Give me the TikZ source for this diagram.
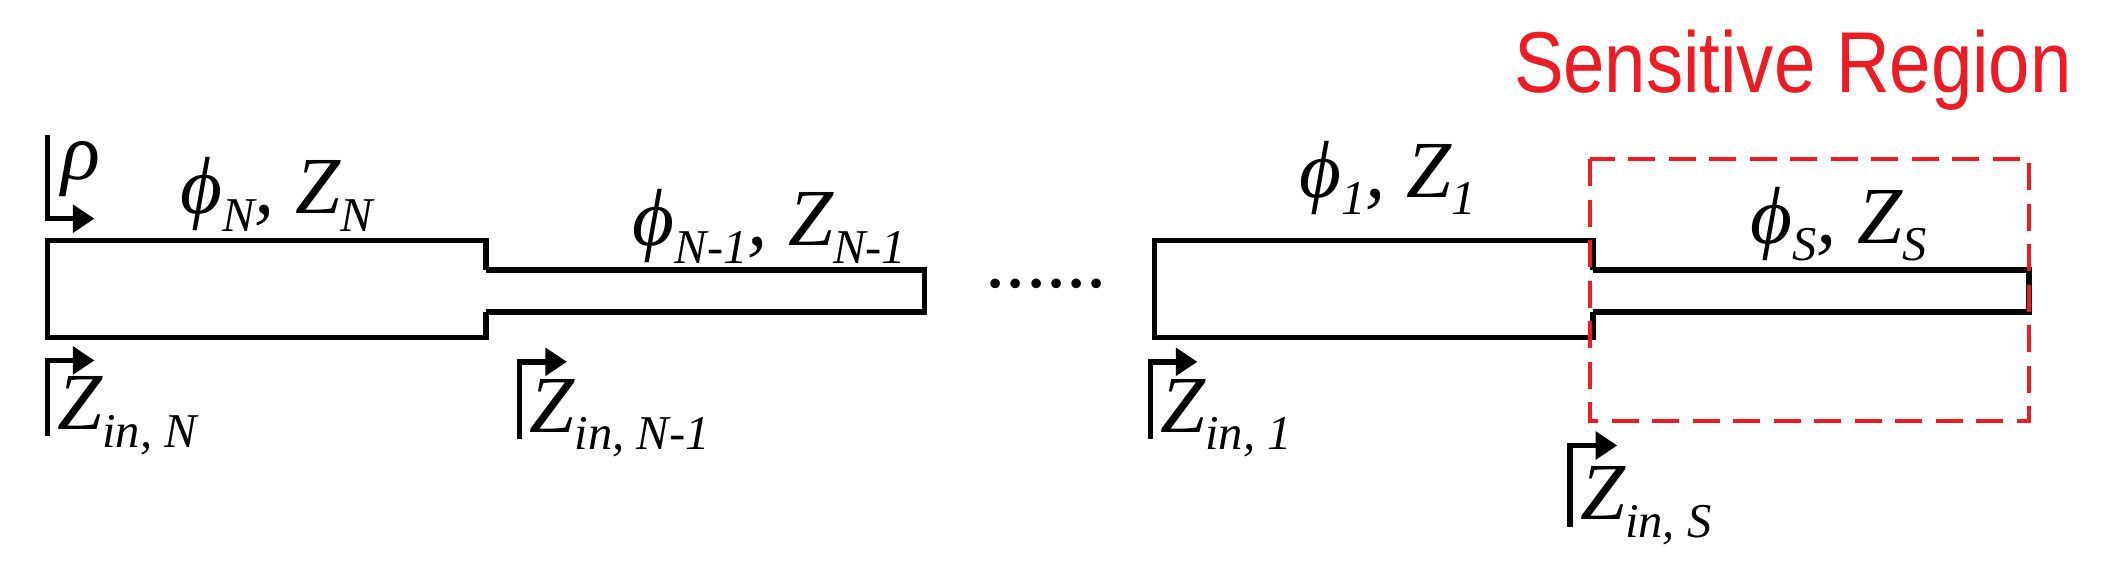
\documentclass[tikz,border=0pt]{standalone}
\usepackage{fontspec}
\setmainfont{Liberation Serif}
\newfontfamily\sansf{Liberation Sans}
\usetikzlibrary{arrows.meta}
\definecolor{sred}{RGB}{237,28,36}
\newcommand{\lsub}[1]{\raisebox{-0.22em}{\fontsize{18}{18}\selectfont\itshape #1}}
\begin{document}
\begin{tikzpicture}[x=0.5pt,y=-0.5pt,
  line/.style={line width=2pt,line join=miter},
  port/.style={line width=2pt,-{Triangle[length=8pt,width=10pt]}},
  lab/.style={font=\fontsize{30}{30}\selectfont\itshape,inner sep=0pt,anchor=base}]
\useasboundingbox (0,0) rectangle (1560,419);
% lines
\draw[line] (360,200) -- (360,178) -- (35,178) -- (35,250) -- (360,250) -- (360,231);
\draw[line] (360,200) -- (685,200) -- (685,231) -- (360,231);
\draw[line] (1180,200) -- (1180,178) -- (855,178) -- (855,250) -- (1180,250) -- (1180,231);
\draw[line] (1180,200) -- (1503,200) -- (1503,231) -- (1180,231);
\node[inner sep=0pt,font=\fontsize{30}{30}\selectfont] (dots) at (775,210) {......};
% red region
\draw[sred,line width=1.6pt,dash pattern=on 10pt off 5pt] (1178,118) rectangle (1503,312);
\node[sred,inner sep=0pt,font=\sansf\fontsize{32}{32}\selectfont,xscale=0.86] (sr) at (1328,52) {Sensitive Region};
% rho
\coordinate (r0) at (35,100); \coordinate (r1) at (35,162); \coordinate (r2) at (70,162);
\draw[port] (r0) -- (r1) -- (r2);
\node[lab] (rho) at (60,133) {ρ};
% labels
\node[lab] (lN) at (205,158) {ϕ\lsub{N}, Z\lsub{N}};
\node[lab] (lN1) at (570,182) {ϕ\lsub{N-1}, Z\lsub{N-1}};
\node[lab] (l1) at (1028,146) {ϕ\lsub{1}, Z\lsub{1}};
\node[lab] (lS) at (1362,180) {ϕ\lsub{S}, Z\lsub{S}};
% input ports
\coordinate (a0) at (35,323); \coordinate (a1) at (35,267); \coordinate (a2) at (70,267);
\draw[port] (a0) -- (a1) -- (a2);
\node[lab,anchor=base west] (zN) at (42,318) {Z\lsub{in, N}};
\coordinate (b0) at (385,325); \coordinate (b1) at (385,268); \coordinate (b2) at (420,268);
\draw[port] (b0) -- (b1) -- (b2);
\node[lab,anchor=base west] (zN1) at (392,320) {Z\lsub{in, N-1}};
\coordinate (c0) at (852,325); \coordinate (c1) at (852,268); \coordinate (c2) at (887,268);
\draw[port] (c0) -- (c1) -- (c2);
\node[lab,anchor=base west] (z1) at (859,320) {Z\lsub{in, 1}};
\coordinate (d0) at (1163,390); \coordinate (d1) at (1163,330); \coordinate (d2) at (1198,330);
\draw[port] (d0) -- (d1) -- (d2);
\node[lab,anchor=base west] (zS) at (1170,385) {Z\lsub{in, S}};
\end{tikzpicture}
\end{document}
